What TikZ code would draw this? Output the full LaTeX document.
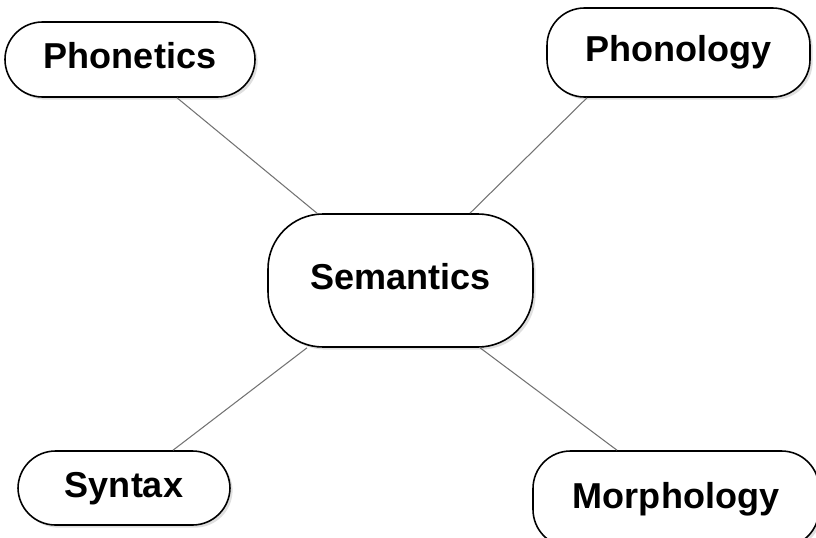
\documentclass[tikz,border=0pt]{standalone}
\usepackage{fontspec}
\setmainfont{Liberation Sans}
\usetikzlibrary{calc,shadows}

\begin{document}
\begin{tikzpicture}[
  topic/.style={draw, rectangle, rounded corners=0.75cm, fill=white, line width=0.9pt,
                inner sep=0pt, font=\fontsize{20.5}{24}\selectfont\bfseries,
                text height=0.6cm, text depth=0.24cm,
                drop shadow={opacity=0.25, shadow xshift=1.5pt, shadow yshift=-1.5pt}},
  link/.style={draw=black!55, line width=0.6pt}
]
\useasboundingbox (0,0) rectangle (16.32,-10.74);
\node[topic, minimum width=5.0cm,  minimum height=1.5cm]  (phonetics)  at (2.60,-1.19)  {Phonetics};
\node[topic, minimum width=5.26cm, minimum height=1.78cm] (phonology)  at (13.57,-1.05) {Phonology};
\node[topic, minimum width=5.3cm,  minimum height=2.66cm, rounded corners=1.1cm] (semantics) at (8.01,-5.61) {Semantics};
\node[topic, minimum width=4.24cm, minimum height=1.48cm] (syntax)     at (2.48,-9.76)  {Syntax};
\node[topic, minimum width=5.72cm, minimum height=1.92cm] (morphology) at (13.52,-9.98) {Morphology};
% spokes leave the boxes off-centre
\draw[link] ($(phonetics.south)+(0.94,0)$)  -- ($(semantics.north)+(-1.67,0)$);
\draw[link] ($(phonology.south)+(-1.83,0)$) -- ($(semantics.north)+(1.39,0)$);
\draw[link] ($(semantics.south)+(-1.87,0)$) -- ($(syntax.north)+(0.98,0)$);
\draw[link] ($(semantics.south)+(1.59,0)$)  -- ($(morphology.north)+(-1.18,0)$);
\end{tikzpicture}
\end{document}
